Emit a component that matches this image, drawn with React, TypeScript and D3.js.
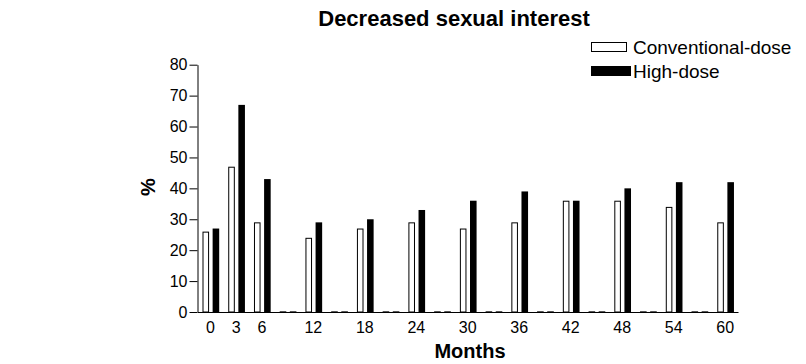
import React, { useEffect, useRef } from 'react';
import * as d3 from 'd3';

// months on the x axis (every 3 months, only some have data)
const months = [0, 3, 6, 9, 12, 15, 18, 21, 24, 27, 30, 33, 36, 39, 42, 45, 48, 51, 54, 57, 60];
const labeledMonths = [0, 3, 6, 12, 18, 24, 30, 36, 42, 48, 54, 60];
const conventional = [26, 47, 29, 0, 24, 0, 27, 0, 29, 0, 27, 0, 29, 0, 36, 0, 36, 0, 34, 0, 29];
const highDose = [27, 67, 43, 0, 29, 0, 30, 0, 33, 0, 36, 0, 39, 0, 36, 0, 40, 0, 42, 0, 42];
const seriesNames = ['Conventional-dose', 'High-dose'];
const yTicks = [0, 10, 20, 30, 40, 50, 60, 70, 80];

const width = 806;
const height = 364;
const font = 'Liberation Sans, Arial, sans-serif';

const App: React.FC = () => {
  const svgRef = useRef<SVGSVGElement>(null);

  useEffect(() => {
    if (!svgRef.current) return;
    const svg = d3.select(svgRef.current);
    svg.selectAll('*').remove();

    const x = d3.scaleBand<string>()
      .domain(months.map(String))
      .range([197.5, 738])
      .padding(0);

    const inner = d3.scaleBand<string>()
      .domain(seriesNames)
      .range([5, 21.7])
      .paddingInner(0.35);

    const y = d3.scaleLinear().domain([0, 80]).range([312, 64.7]);

    const rows = months.map((m, i) => ({ m: String(m), conv: conventional[i], high: highDose[i] }));

    // bars
    const g = svg.append('g');
    g.selectAll('rect.conv')
      .data(rows)
      .enter()
      .append('rect')
      .attr('class', 'conv')
      .attr('x', d => (x(d.m) as number) + (inner(seriesNames[0]) as number) + 0.5)
      .attr('y', d => y(d.conv) + 0.5)
      .attr('width', inner.bandwidth() - 1)
      .attr('height', d => Math.max(0, y(0) - y(d.conv) - 0.5))
      .attr('fill', '#fff')
      .attr('stroke', '#000')
      .attr('stroke-width', 1);

    g.selectAll('rect.high')
      .data(rows)
      .enter()
      .append('rect')
      .attr('class', 'high')
      .attr('x', d => (x(d.m) as number) + (inner(seriesNames[1]) as number))
      .attr('y', d => y(d.high))
      .attr('width', inner.bandwidth())
      .attr('height', d => y(0) - y(d.high))
      .attr('fill', '#000');

    // zero-value markers on the baseline
    g.selectAll('line.zero')
      .data(rows.filter(d => d.conv === 0))
      .enter()
      .append('line')
      .attr('class', 'zero')
      .attr('x1', d => (x(d.m) as number) + (inner(seriesNames[0]) as number))
      .attr('x2', d => (x(d.m) as number) + (inner(seriesNames[1]) as number) + inner.bandwidth())
      .attr('y1', y(0))
      .attr('y2', y(0))
      .attr('stroke', '#555')
      .attr('stroke-width', 2)
      .attr('stroke-dasharray', `${inner.bandwidth()},${inner.step() - inner.bandwidth()}`);

    // x axis
    const xAxis = svg.append('g')
      .attr('transform', `translate(0,${y(0)})`)
      .call(d3.axisBottom(x)
        .tickSize(0)
        .tickSizeOuter(0)
        .tickPadding(10)
        .tickFormat(d => (labeledMonths.includes(+d) ? d : '')));
    xAxis.select('.domain').attr('stroke', '#000');
    xAxis.selectAll('text')
      .attr('font-family', font)
      .attr('font-size', 16)
      .attr('fill', '#000');

    // y axis
    const yAxis = svg.append('g')
      .attr('transform', 'translate(197.5,0)')
      .call(d3.axisLeft(y).tickValues(yTicks).tickSize(8).tickSizeOuter(0).tickPadding(2));
    yAxis.selectAll('text')
      .attr('font-family', font)
      .attr('font-size', 16)
      .attr('fill', '#000');

    // title and axis labels
    svg.append('text')
      .attr('x', 454)
      .attr('y', 26)
      .attr('text-anchor', 'middle')
      .attr('font-family', font)
      .attr('font-weight', 'bold')
      .attr('font-size', 22)
      .text('Decreased sexual interest');

    svg.append('text')
      .attr('x', 470)
      .attr('y', 358)
      .attr('text-anchor', 'middle')
      .attr('font-family', font)
      .attr('font-weight', 'bold')
      .attr('font-size', 20)
      .text('Months');

    svg.append('text')
      .attr('transform', 'translate(155,187) rotate(-90)')
      .attr('text-anchor', 'middle')
      .attr('font-family', font)
      .attr('font-weight', 'bold')
      .attr('font-size', 20)
      .text('%');

    // legend
    const legend = svg.append('g').attr('transform', 'translate(591,40)');
    const items = legend.selectAll('g')
      .data(seriesNames)
      .enter()
      .append('g')
      .attr('transform', (d, i) => `translate(0,${i * 24})`);
    items.append('rect')
      .attr('x', (d, i) => (i === 0 ? 0.5 : 0))
      .attr('y', (d, i) => (i === 0 ? 2.5 : 2))
      .attr('width', (d, i) => (i === 0 ? 35 : 40))
      .attr('height', (d, i) => (i === 0 ? 9 : 10))
      .attr('fill', (d, i) => (i === 0 ? '#fff' : '#000'))
      .attr('stroke', '#000')
      .attr('stroke-width', (d, i) => (i === 0 ? 1 : 0));
    items.append('text')
      .attr('x', 42)
      .attr('y', 14)
      .attr('font-family', font)
      .attr('font-size', 19)
      .text(d => d);
  }, []);

  return (
    <svg
      ref={svgRef}
      width={width}
      height={height}
      style={{ position: 'absolute', left: 0, top: 0, background: '#fff' }}
    />
  );
};

export default App;
